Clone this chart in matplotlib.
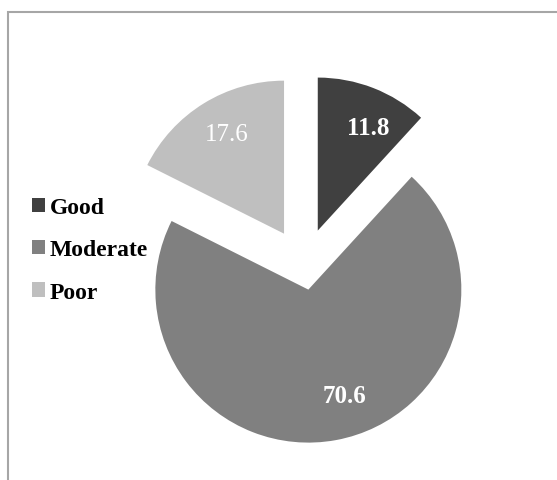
import math
import matplotlib
matplotlib.use('Agg')
import matplotlib.pyplot as plt
from matplotlib.patches import Rectangle

categories = ['Good', 'Moderate', 'Poor']
values = [11.8, 70.6, 17.6]
colors = ['#404040', '#808080', '#bfbfbf']

plt.rcParams['font.family'] = ['Liberation Serif', 'DejaVu Serif']

W, H = 557, 481
fig = plt.figure(figsize=(W / 100, H / 100), dpi=100)
ax = fig.add_axes([0, 0, 1, 1])

# pie laid out in pixel units (y measured from the bottom)
r = 153
wedges, texts, autotexts = ax.pie(
    values, colors=colors, startangle=90, counterclock=False,
    center=(304, H - 267), radius=r, explode=[38, 24, 38],
    autopct=lambda p: f'{p:.1f}', pctdistance=0.77,
    textprops={'fontsize': 18, 'color': 'white', 'fontweight': 'bold'},
    wedgeprops={'linewidth': 0})
autotexts[2].set_fontweight('normal')

# labels sit a little off their mid angles, as in the original
label_angles = [64, -71, 120]
label_dist = [0.75, 0.73, 0.75]
for w, t, a, d in zip(wedges, autotexts, label_angles, label_dist):
    cx, cy = w.center
    t.set_position((cx + d * r * math.cos(math.radians(a)),
                    cy + d * r * math.sin(math.radians(a))))

ax.set_xlim(0, W)
ax.set_ylim(0, H)
ax.set_aspect('auto')
ax.axis('off')

# chart border
ax.add_patch(Rectangle((7.5, -10), W + 20, H - 12.5 + 10, fill=False,
                       edgecolor='#a6a6a6', linewidth=1.5, clip_on=False))

ax.legend(wedges, categories, loc='center left',
          bbox_to_anchor=(32, H - 251), bbox_transform=ax.transData,
          frameon=False, borderpad=0, borderaxespad=0,
          handlelength=0.55, handleheight=0.55, handletextpad=0.2,
          labelspacing=0.9, prop={'size': 17, 'weight': 'bold'})

fig.savefig('out.png', dpi=100)
